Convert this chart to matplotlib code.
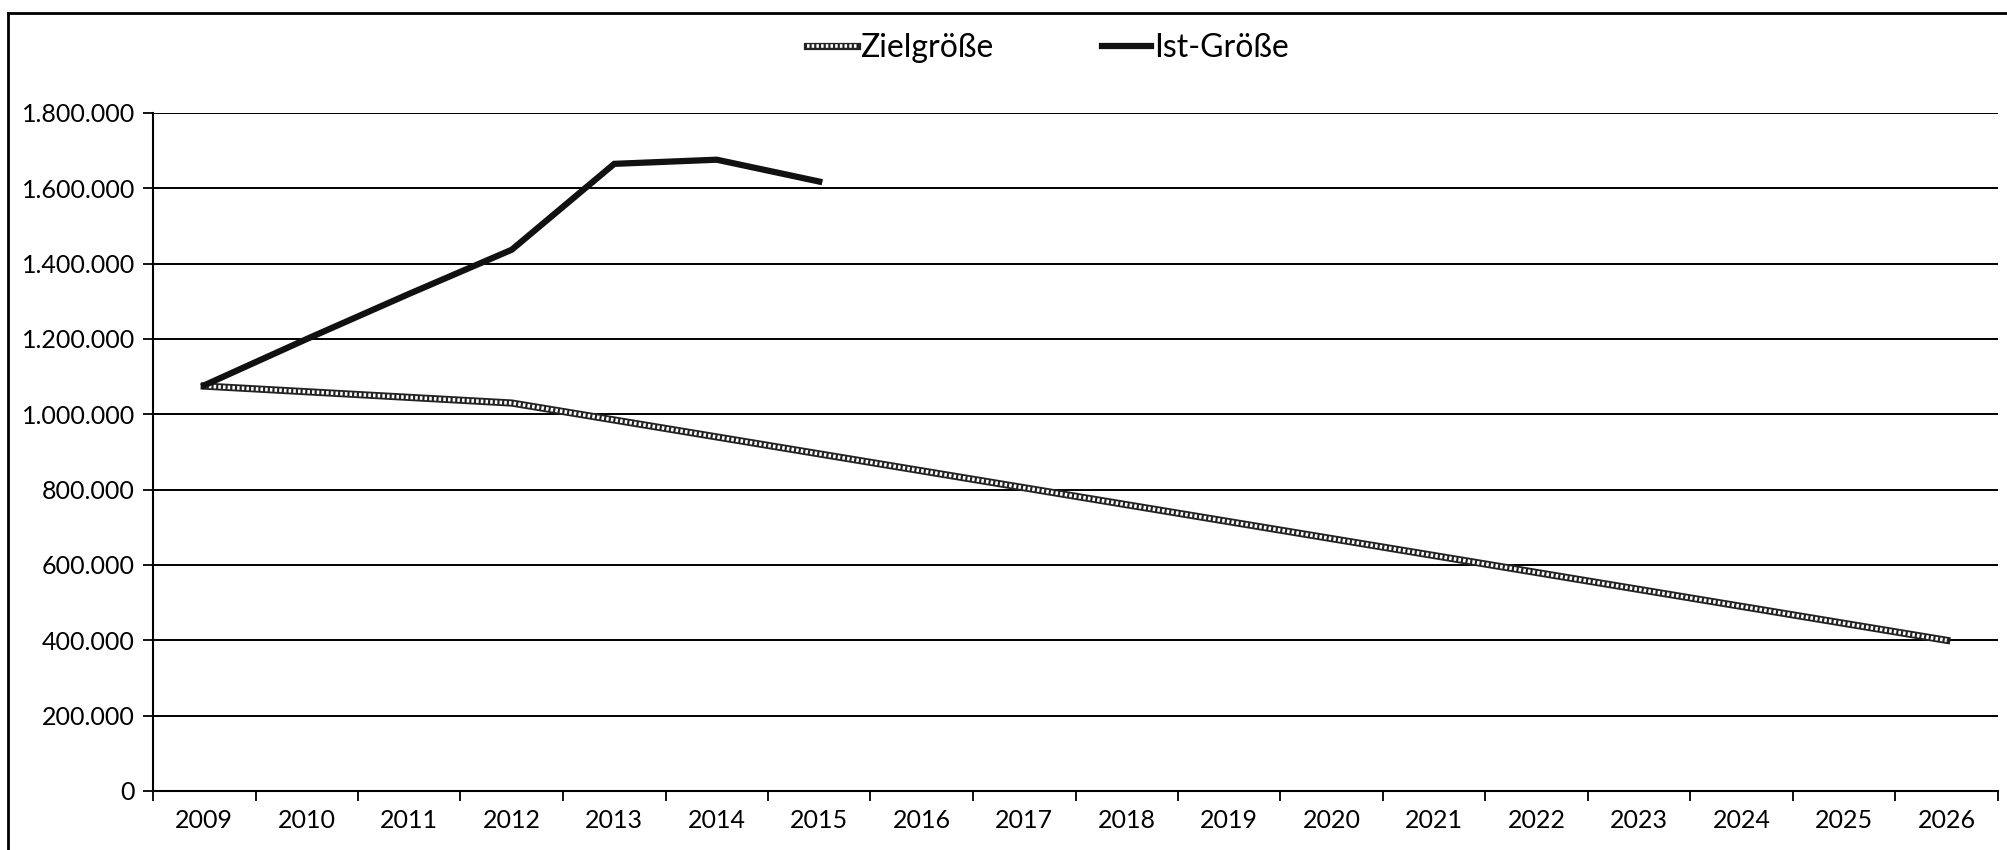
import matplotlib.pyplot as plt
from matplotlib.lines import Line2D
from matplotlib.legend_handler import HandlerTuple
from matplotlib.ticker import FuncFormatter, FixedLocator

# Daten
jahre = [str(j) for j in range(2009, 2027)]
ziel = [1075000, 1060000, 1045000, 1030000, 985000, 940000, 895000, 850000, 805000,
        760000, 715000, 670000, 625000, 580000, 535000, 490000, 445000, 400000]
ist = [1077000, 1200000, 1320000, 1437000, 1665000, 1676000, 1618000]
y_ticks = [0, 200000, 400000, 600000, 800000, 1000000, 1200000, 1400000, 1600000, 1800000]

plt.rcParams['font.family'] = ['Lato', 'DejaVu Sans']

fig = plt.figure(figsize=(20.08, 8.5), dpi=100)
ax = fig.add_axes([153 / 2008, 1 - 791 / 850, (1998 - 153) / 2008, (791 - 113) / 850])

x_ziel = list(range(len(ziel)))
x_ist = list(range(len(ist)))

# Zielgröße: dunkle Linie mit weißem Punktmuster darüber
z_dunkel, = ax.plot(x_ziel, ziel, color='#222222', linewidth=5.2, zorder=3)
z_punkte, = ax.plot(x_ziel, ziel, color='white', linewidth=2.6,
                    linestyle=(0, (0.7, 0.6)), zorder=3)
ist_linie, = ax.plot(x_ist, ist, color='#111111', linewidth=4.5, zorder=4,
                     solid_joinstyle='miter')

ax.set_xlim(-0.5, len(jahre) - 0.5)
ax.set_ylim(0, 1800000)
ax.set_xticks(x_ziel)
ax.set_xticklabels(jahre)
ax.xaxis.set_minor_locator(FixedLocator([i - 0.5 for i in range(len(jahre) + 1)]))
ax.tick_params(axis='x', which='major', length=0, pad=13, labelsize=18)
ax.tick_params(axis='x', which='minor', length=7, width=1.3, direction='out')
ax.set_yticks(y_ticks)
ax.yaxis.set_major_formatter(FuncFormatter(lambda v, p: f"{int(v):,}".replace(',', '.')))
ax.tick_params(axis='y', length=7, width=1.3, direction='out', pad=6, labelsize=18)

ax.grid(axis='y', color='black', linewidth=1.4)
ax.set_axisbelow(True)
for s in ['top', 'right']:
    ax.spines[s].set_visible(False)
for s in ['left', 'bottom']:
    ax.spines[s].set_linewidth(1.5)

fig.legend([(z_dunkel, z_punkte), ist_linie], ['Zielgröße', 'Ist-Größe'],
           handler_map={tuple: HandlerTuple(ndivide=1, pad=0)},
           loc='center', bbox_to_anchor=(0.522, 1 - 48 / 850), ncol=2, frameon=False,
           fontsize=23, handlelength=1.55, handletextpad=0.1, columnspacing=3.4)

# Rahmen oben und links
fig.add_artist(Line2D([8 / 2008, 8 / 2008], [0, 1 - 13 / 850], transform=fig.transFigure,
                      color='black', linewidth=2))
fig.add_artist(Line2D([8 / 2008, 1], [1 - 13 / 850, 1 - 13 / 850], transform=fig.transFigure,
                      color='black', linewidth=2))

plt.savefig('out.png', dpi=100)
plt.close()
